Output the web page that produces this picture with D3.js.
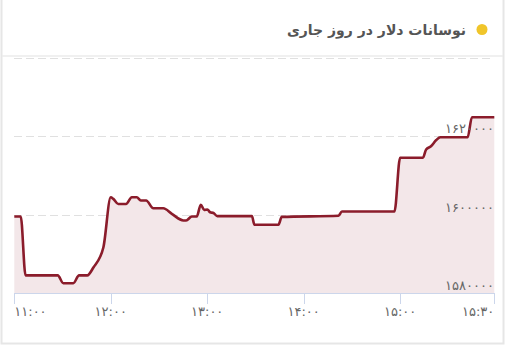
<!DOCTYPE html>
<html>
<head>
<meta charset="utf-8">
<script src="https://cdnjs.cloudflare.com/ajax/libs/d3/7.8.5/d3.min.js"></script>
<style>
  html, body { margin: 0; padding: 0; background: #fff; }
  svg { display: block; }
</style>
</head>
<body>
<script>
// minutes since 11:00 and dollar price
const minutes = [0, 4, 7, 27, 30.5, 36.7, 40.3, 45.4, 49.2, 55.4, 60, 61.6, 64.7, 69.5, 73.1, 76.2, 78.7, 82,
  86.5, 92.7, 98, 105.2, 106.9, 110.4, 113.5, 116, 118.1, 120.1, 121.8, 123.9, 126.3, 147.8, 149.4, 164.3,
  166.4, 201.7, 203.8, 236.5, 240, 254.2, 256.2, 259.2, 262.5, 265, 282, 284.7, 298.6]
const prices = [1599500, 1599500, 1584500, 1584500, 1582500, 1582500, 1584500, 1584500, 1586500, 1591600,
  1604400, 1604000, 1602700, 1602700, 1604400, 1604400, 1603600, 1603600, 1601600, 1601600, 1600200, 1598500,
  1598500, 1599500, 1599500, 1602500, 1601200, 1601300, 1600600, 1600400, 1599600, 1599600, 1597400, 1597400,
  1599400, 1599700, 1600800, 1600800, 1614500, 1614500, 1616600, 1617400, 1619000, 1619700, 1619700, 1624800, 1624800]

const xTicks = [0, 60, 120, 180, 240, 298.6]
const xTickLabels = ["۱۱:۰۰", "۱۲:۰۰", "۱۳:۰۰", "۱۴:۰۰", "۱۵:۰۰", "۱۵:۳۰"]
const yTicks = [1580000, 1600000, 1620000, 1640000]
const yTickLabels = ["۱۵۸۰۰۰۰", "۱۶۰۰۰۰۰", "۱۶۲۰۰۰۰", ""]
const title = "نوسانات دلار در روز جاری"

const W = 507, H = 347
const font = "'DejaVu Sans', 'Noto Sans', sans-serif"

const data = minutes.map((m, i) => ({ m: m, v: prices[i] }))

const svg = d3.select("body").append("svg")
    .attr("width", W)
    .attr("height", H)

// card
svg.append("rect")
    .attr("x", 1.5).attr("y", -2)
    .attr("width", 502).attr("height", 345.5)
    .attr("fill", "#fff")
    .attr("stroke", "#e6e6e6")
    .attr("stroke-width", 2)

svg.append("line")
    .attr("x1", 2).attr("x2", 503)
    .attr("y1", 56).attr("y2", 56)
    .attr("stroke", "#ebebeb")
    .attr("stroke-width", 1.5)

// title
svg.append("circle")
    .attr("cx", 482).attr("cy", 29.5).attr("r", 5.5)
    .attr("fill", "#f0c52a")

svg.append("text")
    .attr("x", 466).attr("y", 35)
    .attr("text-anchor", "end")
    .style("font-family", font)
    .style("font-weight", "bold")
    .style("font-size", "14px")
    .attr("fill", "#555")
    .text(title)

const x = d3.scaleLinear().domain([0, 298.6]).range([14.3, 494.3])
const y = d3.scaleLinear().domain([1580000, 1640000]).range([293, 57.7])

// grid
svg.append("g").selectAll("line")
    .data(yTicks.slice(1))
    .enter().append("line")
    .attr("x1", 14).attr("x2", 494)
    .attr("y1", d => Math.round(y(d)) + 0.5)
    .attr("y2", d => Math.round(y(d)) + 0.5)
    .attr("stroke", "#e0e0e0")
    .attr("stroke-dasharray", "8,4")

// area + line
const area = d3.area()
    .x(d => x(d.m))
    .y0(y(1580000))
    .y1(d => y(d.v))
    .curve(d3.curveMonotoneX)

const line = d3.line()
    .x(d => x(d.m))
    .y(d => y(d.v))
    .curve(d3.curveMonotoneX)

svg.append("path")
    .datum(data)
    .attr("d", area)
    .attr("fill", "#f3e7e9")

svg.append("path")
    .datum(data)
    .attr("d", line)
    .attr("fill", "none")
    .attr("stroke", "#8b1c2b")
    .attr("stroke-width", 2.6)
    .attr("stroke-linejoin", "round")

// x axis
const xAxis = svg.append("g")
xAxis.append("line")
    .attr("x1", 14).attr("x2", 495)
    .attr("y1", 293.5).attr("y2", 293.5)
    .attr("stroke", "#ccd6eb")

xAxis.selectAll(".tick")
    .data(xTicks)
    .enter().append("line")
    .attr("class", "tick")
    .attr("x1", d => Math.round(x(d)) + 0.5)
    .attr("x2", d => Math.round(x(d)) + 0.5)
    .attr("y1", 293).attr("y2", 304)
    .attr("stroke", "#ccd6eb")

xAxis.selectAll("text")
    .data(xTicks)
    .enter().append("text")
    .attr("x", d => x(d))
    .attr("y", 316)
    .attr("text-anchor", (d, i) => i == 0 ? "start" : (i == xTicks.length - 1 ? "end" : "middle"))
    .style("font-family", font)
    .style("font-size", "13px")
    .attr("fill", "#666")
    .text((d, i) => xTickLabels[i])

// y labels
svg.append("g").selectAll("text")
    .data(yTicks)
    .enter().append("text")
    .attr("x", 494)
    .attr("y", d => y(d) - 3)
    .attr("text-anchor", "end")
    .style("font-family", font)
    .style("font-size", "13px")
    .attr("fill", "#666")
    .text((d, i) => yTickLabels[i])
</script>
</body>
</html>
